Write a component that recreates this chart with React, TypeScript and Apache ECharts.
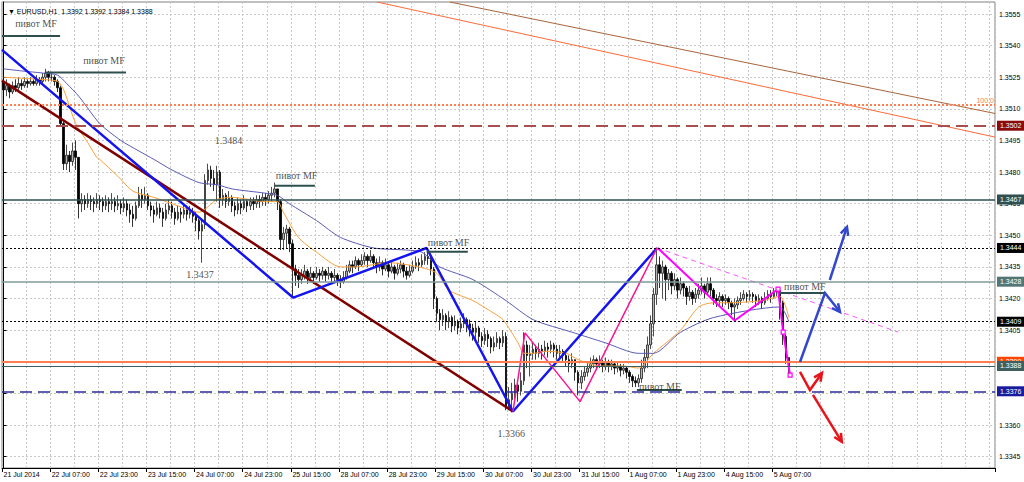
import React, { useEffect, useRef } from "react";
import * as echarts from "echarts";

const FONT = "'Liberation Sans Narrow', 'Arial Narrow', 'Liberation Sans', Arial, sans-serif";
const SERIF = "'Liberation Serif', 'Times New Roman', serif";
const AX_FS = 7;

// ---------- axis ----------
const TICK_LABELS = [
  "21 Jul 2014", "22 Jul 07:00", "22 Jul 23:00", "23 Jul 15:00", "24 Jul 07:00", "24 Jul 23:00",
  "25 Jul 15:00", "28 Jul 07:00", "28 Jul 23:00", "29 Jul 15:00", "30 Jul 07:00", "30 Jul 23:00",
  "31 Jul 15:00", "1 Aug 07:00", "1 Aug 23:00", "4 Aug 15:00", "5 Aug 07:00",
];
const BARS_PER_LABEL = 16;
const BARS_PER_GRID = 8;
const SLOTS = 330;
const Y_MIN = 1.33396;
const Y_MAX = 1.35607;
const Y_TICKS = [1.3345, 1.336, 1.3375, 1.339, 1.3405, 1.342, 1.3435, 1.345, 1.3465, 1.348, 1.3495, 1.351, 1.3525, 1.354, 1.3555];

// ---------- candles (H1) ----------
const FIRST_OPEN = 1.3523;
const CLOSE = [
  1.3519,1.3521,1.3518,1.3521,1.3520,1.3522,1.3521,1.3523,1.3522,1.3523,
  1.3522,1.3524,1.3523,1.3525,1.3527,1.3525,1.3525,1.3523,1.3520,1.3503,
  1.3484,1.3488,1.3485,1.3490,1.3487,1.3465,1.3467,1.3465,1.3467,1.3466,
  1.3465,1.3467,1.3466,1.3464,1.3466,1.3465,1.3466,1.3464,1.3465,1.3463,
  1.3465,1.3462,1.3460,1.3458,1.3464,1.3469,1.3467,1.3469,1.3464,1.3462,
  1.3460,1.3463,1.3461,1.3458,1.3462,1.3464,1.3461,1.3458,1.3461,1.3460,
  1.3462,1.3460,1.3461,1.3459,1.3457,1.3452,1.3455,1.3476,1.3481,1.3477,
  1.3474,1.3480,1.3467,1.3469,1.3466,1.3468,1.3464,1.3462,1.3465,1.3463,
  1.3466,1.3464,1.3466,1.3465,1.3467,1.3466,1.3468,1.3467,1.3469,1.3470,
  1.3472,1.3466,1.3448,1.3451,1.3453,1.3446,1.3434,1.3431,1.3429,1.3431,
  1.3433,1.3430,1.3432,1.3430,1.3432,1.3431,1.3433,1.3431,1.3432,1.3430,
  1.3431,1.3429,1.3428,1.3430,1.3433,1.3436,1.3435,1.3438,1.3436,1.3438,
  1.3440,1.3438,1.3440,1.3437,1.3435,1.3437,1.3434,1.3436,1.3433,1.3435,
  1.3432,1.3434,1.3436,1.3433,1.3431,1.3433,1.3435,1.3437,1.3436,1.3438,
  1.3440,1.3439,1.3434,1.3420,1.3413,1.3410,1.3412,1.3409,1.3411,1.3407,
  1.3409,1.3406,1.3408,1.3410,1.3408,1.3406,1.3404,1.3406,1.3402,1.3400,
  1.3403,1.3401,1.3397,1.3399,1.3401,1.3399,1.3402,1.3368,1.3372,1.3375,
  1.3379,1.3376,1.3381,1.3398,1.3393,1.3394,1.3396,1.3394,1.3396,1.3395,
  1.3397,1.3396,1.3398,1.3396,1.3394,1.3395,1.3393,1.3391,1.3389,1.3391,
  1.3385,1.3380,1.3383,1.3385,1.3387,1.3389,1.3391,1.3389,1.3390,1.3388,
  1.3390,1.3388,1.3389,1.3387,1.3388,1.3386,1.3387,1.3385,1.3383,1.3381,
  1.3380,1.3382,1.3387,1.3392,1.3398,1.3408,1.3422,1.3436,1.3432,1.3435,
  1.3429,1.3432,1.3426,1.3429,1.3424,1.3427,1.3425,1.3421,1.3423,1.3420,
  1.3422,1.3424,1.3426,1.3423,1.3427,1.3424,1.3420,1.3419,1.3421,1.3419,
  1.3420,1.3418,1.3416,1.3417,1.3419,1.3420,1.3422,1.3421,1.3422,1.3421,
  1.3419,1.3420,1.3418,1.3420,1.3422,1.3421,1.3423,1.3424,1.3418,1.3402,
  1.3392,1.3388,
];
const HIGH = [
  1.3526,1.3524,1.3522,1.3523,1.3524,1.3525,1.3524,1.3525,1.3524,1.3525,
  1.3524,1.3526,1.3525,1.3527,1.3529,1.3528,1.3527,1.3526,1.3524,1.3521,
  1.3504,1.3493,1.3490,1.3494,1.3495,1.3487,1.3470,1.3469,1.3470,1.3469,
  1.3468,1.3470,1.3469,1.3468,1.3469,1.3468,1.3470,1.3468,1.3469,1.3467,
  1.3468,1.3467,1.3465,1.3464,1.3466,1.3473,1.3472,1.3473,1.3470,1.3466,
  1.3464,1.3466,1.3465,1.3463,1.3465,1.3467,1.3466,1.3463,1.3464,1.3463,
  1.3465,1.3464,1.3464,1.3463,1.3461,1.3458,1.3457,1.3479,1.3484,1.3483,
  1.3481,1.3483,1.3481,1.3472,1.3470,1.3471,1.3469,1.3466,1.3468,1.3467,
  1.3469,1.3467,1.3468,1.3468,1.3469,1.3469,1.3470,1.3470,1.3471,1.3473,
  1.3475,1.3472,1.3467,1.3454,1.3455,1.3454,1.3448,1.3436,1.3434,1.3434,
  1.3436,1.3434,1.3435,1.3433,1.3435,1.3434,1.3435,1.3434,1.3435,1.3433,
  1.3434,1.3432,1.3431,1.3433,1.3436,1.3438,1.3438,1.3440,1.3439,1.3441,
  1.3442,1.3441,1.3443,1.3441,1.3439,1.3440,1.3438,1.3439,1.3437,1.3438,
  1.3436,1.3437,1.3438,1.3437,1.3435,1.3436,1.3438,1.3440,1.3439,1.3441,
  1.3442,1.3444,1.3440,1.3435,1.3421,1.3415,1.3415,1.3413,1.3414,1.3412,
  1.3412,1.3410,1.3411,1.3413,1.3411,1.3410,1.3408,1.3409,1.3407,1.3404,
  1.3406,1.3405,1.3402,1.3402,1.3404,1.3402,1.3405,1.3404,1.3378,1.3380,
  1.3382,1.3381,1.3385,1.3404,1.3400,1.3398,1.3399,1.3398,1.3399,1.3398,
  1.3400,1.3399,1.3400,1.3399,1.3398,1.3398,1.3396,1.3395,1.3393,1.3394,
  1.3391,1.3386,1.3386,1.3388,1.3390,1.3392,1.3393,1.3392,1.3393,1.3391,
  1.3392,1.3391,1.3391,1.3390,1.3390,1.3389,1.3389,1.3388,1.3386,1.3384,
  1.3383,1.3384,1.3391,1.3396,1.3402,1.3412,1.3425,1.3444,1.3440,1.3438,
  1.3436,1.3434,1.3433,1.3432,1.3430,1.3430,1.3428,1.3426,1.3426,1.3424,
  1.3425,1.3427,1.3430,1.3427,1.3430,1.3430,1.3425,1.3422,1.3423,1.3422,
  1.3422,1.3421,1.3419,1.3420,1.3421,1.3423,1.3424,1.3423,1.3424,1.3423,
  1.3422,1.3422,1.3421,1.3423,1.3424,1.3424,1.3425,1.3425,1.3424,1.3419,
  1.3403,1.3392,
];
const LOW = [
  1.3514,1.3516,1.3515,1.3517,1.3518,1.3519,1.3519,1.3520,1.3520,1.3521,
  1.3521,1.3521,1.3521,1.3522,1.3523,1.3523,1.3523,1.3521,1.3518,1.3502,
  1.3481,1.3481,1.3480,1.3483,1.3481,1.3458,1.3461,1.3462,1.3463,1.3462,
  1.3461,1.3463,1.3462,1.3461,1.3462,1.3461,1.3462,1.3461,1.3462,1.3460,
  1.3461,1.3459,1.3456,1.3454,1.3457,1.3463,1.3463,1.3465,1.3462,1.3459,
  1.3456,1.3459,1.3458,1.3454,1.3457,1.3460,1.3458,1.3455,1.3457,1.3456,
  1.3458,1.3457,1.3458,1.3456,1.3452,1.3448,1.3437,1.3453,1.3474,1.3473,
  1.3471,1.3466,1.3463,1.3464,1.3463,1.3464,1.3461,1.3459,1.3460,1.3460,
  1.3462,1.3461,1.3462,1.3462,1.3463,1.3463,1.3464,1.3464,1.3465,1.3466,
  1.3468,1.3462,1.3443,1.3443,1.3444,1.3442,1.3421,1.3426,1.3425,1.3427,
  1.3429,1.3427,1.3428,1.3427,1.3429,1.3428,1.3429,1.3428,1.3429,1.3427,
  1.3428,1.3426,1.3425,1.3427,1.3429,1.3432,1.3432,1.3434,1.3433,1.3435,
  1.3436,1.3435,1.3437,1.3434,1.3432,1.3433,1.3431,1.3433,1.3430,1.3432,
  1.3429,1.3431,1.3432,1.3430,1.3429,1.3430,1.3432,1.3434,1.3433,1.3435,
  1.3436,1.3436,1.3431,1.3415,1.3409,1.3405,1.3407,1.3405,1.3406,1.3404,
  1.3405,1.3403,1.3404,1.3406,1.3404,1.3402,1.3400,1.3401,1.3399,1.3397,
  1.3398,1.3397,1.3394,1.3395,1.3397,1.3396,1.3397,1.3367,1.3367,1.3366,
  1.3372,1.3371,1.3374,1.3379,1.3387,1.3383,1.3391,1.3391,1.3392,1.3391,
  1.3393,1.3392,1.3394,1.3392,1.3391,1.3391,1.3390,1.3388,1.3385,1.3387,
  1.3381,1.3374,1.3377,1.3381,1.3383,1.3385,1.3387,1.3386,1.3387,1.3385,
  1.3386,1.3385,1.3386,1.3384,1.3385,1.3383,1.3384,1.3382,1.3380,1.3378,
  1.3378,1.3378,1.3380,1.3385,1.3387,1.3396,1.3402,1.3417,1.3425,1.3420,
  1.3419,1.3424,1.3422,1.3424,1.3420,1.3422,1.3421,1.3417,1.3419,1.3417,
  1.3418,1.3420,1.3422,1.3420,1.3422,1.3421,1.3417,1.3416,1.3417,1.3416,
  1.3417,1.3415,1.3412,1.3410,1.3415,1.3417,1.3419,1.3418,1.3419,1.3418,
  1.3416,1.3417,1.3415,1.3417,1.3419,1.3418,1.3420,1.3421,1.3410,1.3398,
  1.3389,1.3384,
];

// ---------- moving averages [bar index, price] ----------
const MA_FAST = [
  [0,1.3525],[12,1.3524],[18,1.3523],[20,1.3519],[24,1.3503],[28,1.3494],[31,1.3487],[32,1.3486],
  [38,1.3478],[43,1.3471],[50,1.3468],[56,1.3465],[65,1.3461],[71,1.3467],[76,1.3468],[87,1.3466],
  [91,1.3466],[93,1.3461],[98,1.3449],[104,1.3442],[112,1.3435],[117,1.3435],[128,1.3437],[138,1.3435],
  [144,1.3432],[148,1.3424],[156,1.3419],[163,1.3413],[166,1.3410],[171,1.3399],[173,1.3394],[176,1.3394],
  [180,1.3395],[187,1.3394],[191,1.3391],[198,1.3388],[206,1.3388],[211,1.3387],[216,1.3394],[225,1.3405],
  [231,1.3416],[236,1.3418],[241,1.3418],[252,1.3419],[258,1.3421],[260,1.3416],[261,1.3411],
];
const MA_SLOW = [
  [0,1.3529],[6,1.3528],[13,1.3527],[18,1.3526],[21,1.3522],[25,1.3516],[32,1.3503],[39,1.3495],
  [45,1.3490],[50,1.3486],[56,1.3481],[65,1.3475],[71,1.3474],[76,1.3472],[87,1.3470],[91,1.3469],
  [95,1.3465],[104,1.3457],[112,1.3449],[123,1.3444],[134,1.3443],[139,1.3442],[145,1.3435],[156,1.3429],
  [167,1.3419],[176,1.3410],[189,1.3404],[200,1.3399],[211,1.3394],[216,1.3394],[225,1.3404],[236,1.3411],
  [258,1.3416],[261,1.3409],
];

// ---------- drawn objects [bar index, price] ----------
const ZIGZAG_BLUE = [[-0.5,1.3538],[96.3,1.34204],[140.6,1.3444],[169.3,1.33664],[217.2,1.3444]];
const TREND_MAROON = [[-0.5,1.35234],[169.3,1.33664]];
const ZIGZAG_PINK = [[169.3,1.33664],[173.3,1.34037],[191.6,1.33711],[217.2,1.3444]];
const ZIGZAG_MAGENTA = [[217.4,1.3444],[243.0,1.34096],[257.4,1.34245],[259.1,1.34041],[261.4,1.33837]];
const TREND_MAGENTA_DASH = [[217.2,1.3444],[297.3,1.34041]];
const TREND_ORANGE = [[124.1,Y_MAX],[329.5,1.34966]];
const TREND_BROWN = [[148.3,Y_MAX],[329.5,1.35078]];

const PIVOT_SEGMENTS = [
  [[-0.5,1.35446],[18.8,1.35446]],
  [[13.8,1.35272],[40.7,1.35272]],
  [[90.2,1.34735],[103.5,1.34735]],
  [[140.6,1.34422],[154.3,1.34422]],
  [[210.5,1.33766],[225.4,1.33766]],
  [[257.5,1.34226],[272.9,1.34226]],
];
const TEXT_NOTES = [
  { value: [10.8, 1.35503], name: "пивот MF" },
  { value: [33.4, 1.35328], name: "пивот MF" },
  { value: [97.4, 1.34783], name: "пивот MF" },
  { value: [147.9, 1.34465], name: "пивот MF" },
  { value: [218.1, 1.33785], name: "пивот MF" },
  { value: [266.3, 1.34256], name: "пивот MF" },
  { value: [74.8, 1.34952], name: "1.3484" },
  { value: [65.3, 1.34312], name: "1.3437" },
  { value: [168.7, 1.33562], name: "1.3366" },
];

const ARROW_POINTS = [
  [[264.7,1.33899],[273.0,1.34226],[278.0,1.34136]],
  [[274.6,1.34288],[280.3,1.3454]],
  [[264.7,1.33852],[268.0,1.33766],[272.0,1.33847]],
  [[269.0,1.33743],[278.6,1.3352]],
];
const ARROW_COLORS = ["#3347cc", "#3347cc", "#e8141c", "#e8141c"];

// horizontal price levels
const LEVEL_PRICES = [1.3512, 1.3502, 1.3467, 1.3444, 1.3428, 1.3409, 1.339, 1.3388, 1.3376];
const LEVEL_STYLES = [
  { color: "#ff7f50", width: 2, type: [2, 2], box: null, fib: "100.0" },
  { color: "#a8504f", width: 2, type: [12, 6], box: "#8b0a0a" },
  { color: "#2f4f4f", width: 1.5, type: "solid", box: "#2f4f4f" },
  { color: "#000000", width: 1, type: [2, 2], box: "#000000" },
  { color: "#7f9a9a", width: 1.5, type: "solid", box: "#557575" },
  { color: "#000000", width: 1, type: [2, 2], box: "#000000" },
  { color: "#ff7f50", width: 2, type: "solid", box: "#ff4500" },
  { color: "#3f5f5f", width: 1, type: "solid", box: "#3f5f5f" },
  { color: "#2b2b9b", width: 1.5, type: [12, 6], box: "#1a1a9c" },
];

function buildOption() {
  const cats = Array.from({ length: SLOTS }, (_, i) => String(i));
  const candles = CLOSE.map((c, k) => [k === 0 ? FIRST_OPEN : CLOSE[k - 1], c, LOW[k], HIGH[k]]);
  const lastLabelIdx = (TICK_LABELS.length - 1) * BARS_PER_LABEL;
  const isLabel = (i: number) => i % BARS_PER_LABEL === 0 && i <= lastLabelIdx;

  const levelLines = LEVEL_PRICES.map((p, k) => {
    const s: any = LEVEL_STYLES[k];
    return {
      yAxis: p,
      lineStyle: { color: s.color, width: s.width, type: s.type },
      label: s.fib
        ? { show: true, position: "insideEndTop", formatter: s.fib, color: "#ff7f50", fontSize: AX_FS, fontFamily: FONT, distance: 1 }
        : {
            show: true, position: "end", distance: 2, formatter: p.toFixed(4), color: "#ffffff",
            backgroundColor: s.box, padding: [2, 3, 1, 3], fontSize: AX_FS, fontFamily: FONT,
          },
    };
  });

  const line = (data: any[], color: string, width: number, type: any = "solid", extra: any = {}) => ({
    type: "line", xAxisIndex: 1, yAxisIndex: 0, data, symbol: "none", showSymbol: false, silent: true,
    lineStyle: { color, width, type }, z: 3, ...extra,
  });

  const series: any[] = [
    {
      type: "candlestick", xAxisIndex: 0, yAxisIndex: 0, data: candles, barWidth: 2, silent: true,
      itemStyle: { color: "#b4b4b4", color0: "#000000", borderColor: "#202020", borderColor0: "#000000", borderWidth: 0.8 },
      z: 2,
    },
    line(MA_FAST, "#f9a03c", 1, "solid", { smooth: 0.25 }),
    line(MA_SLOW, "#5a5ab4", 1, "solid", {
      smooth: 0.25,
      markLine: { symbol: ["none", "none"], silent: true, animation: false, precision: 5, data: levelLines },
    }),
    line(TREND_ORANGE, "#ff6a3a", 1),
    line(TREND_BROWN, "#a8653c", 1),
    line(TREND_MAROON, "#800000", 2.5),
    line(ZIGZAG_BLUE, "#1414f0", 2.5),
    line(ZIGZAG_PINK, "#ff1493", 1.5),
    line(TREND_MAGENTA_DASH, "#ff55ff", 1, [5, 4]),
    line(
      ZIGZAG_MAGENTA.map((p, k) => (k >= 2 ? { value: p, symbol: "rect", symbolSize: 4 } : { value: p })),
      "#ff00ff", 2, "solid",
      { showSymbol: true, z: 4, itemStyle: { color: "#ffffff", borderColor: "#ff00ff", borderWidth: 1.2 } }
    ),
    ...PIVOT_SEGMENTS.map((seg) => line(seg, "#2f4f4f", 2)),
    {
      type: "scatter", xAxisIndex: 1, yAxisIndex: 0, data: TEXT_NOTES, symbolSize: 0, silent: true, z: 6,
      label: { show: true, position: "inside", formatter: "{b}", color: "#1a1a1a", fontSize: 10, fontFamily: SERIF },
    },
    {
      type: "custom", xAxisIndex: 1, yAxisIndex: 0, silent: true, z: 6,
      data: ARROW_POINTS.map((pts) => pts[0]),
      renderItem: (params: any, api: any) => {
        const pts = ARROW_POINTS[params.dataIndex].map((p) => api.coord(p));
        const color = ARROW_COLORS[params.dataIndex];
        const n = pts.length;
        const [x1, y1] = pts[n - 2];
        const [x2, y2] = pts[n - 1];
        const ang = Math.atan2(y2 - y1, x2 - x1);
        const L = 9, spread = 0.45;
        const h1 = [x2 - L * Math.cos(ang - spread), y2 - L * Math.sin(ang - spread)];
        const h2 = [x2 - L * Math.cos(ang + spread), y2 - L * Math.sin(ang + spread)];
        return {
          type: "group",
          children: [
            { type: "polyline", shape: { points: pts }, style: { stroke: color, lineWidth: 2.5, fill: null } },
            { type: "polyline", shape: { points: [h1, [x2, y2], h2] }, style: { stroke: color, lineWidth: 2.5, fill: null } },
          ],
        };
      },
    },
  ];

  return {
    animation: false,
    backgroundColor: "#ffffff",
    title: {
      text: "▼ EURUSD,H1  1.3392 1.3392 1.3384 1.3388",
      left: 3, top: 3,
      textStyle: { fontSize: AX_FS, fontWeight: "normal", color: "#000", fontFamily: FONT },
    },
    grid: { left: 2, right: 29, top: 2, bottom: 14, show: true, borderColor: "#808080", borderWidth: 1 },
    xAxis: [
      {
        type: "category", data: cats, boundaryGap: true,
        axisLine: { show: true, lineStyle: { color: "#000" } },
        axisTick: { show: true, interval: (i: number) => isLabel(i), length: 4, lineStyle: { color: "#000" } },
        axisLabel: {
          interval: (i: number) => isLabel(i),
          formatter: (_v: string, i: number) => (isLabel(i) ? TICK_LABELS[i / BARS_PER_LABEL] : ""),
          align: "left", margin: 3, fontSize: AX_FS, color: "#000", fontFamily: FONT,
        },
        splitLine: { show: true, interval: (i: number) => i % BARS_PER_GRID === 0, lineStyle: { color: "#c8c8c8", type: [2, 2], width: 1 } },
      },
      { type: "value", min: -0.5, max: SLOTS - 0.5, show: false },
    ],
    yAxis: {
      type: "value", position: "right", min: Y_MIN, max: Y_MAX, scale: true,
      axisLine: { show: true, lineStyle: { color: "#000" } },
      axisTick: { show: true, customValues: Y_TICKS, length: 3, lineStyle: { color: "#000" } },
      axisLabel: { customValues: Y_TICKS, formatter: (v: number) => v.toFixed(4), margin: 4, fontSize: AX_FS, color: "#000", fontFamily: FONT },
      splitLine: { show: true, lineStyle: { color: "#c8c8c8", type: [2, 2], width: 1 } },
    },
    series,
  };
}

export default function App() {
  const ref = useRef<HTMLDivElement>(null);
  useEffect(() => {
    const chart = echarts.init(ref.current as HTMLDivElement, null, { renderer: "svg" });
    chart.setOption(buildOption() as any);
    return () => chart.dispose();
  }, []);
  return <div ref={ref} style={{ position: "absolute", left: 0, top: 0, width: 1024, height: 482, background: "#fff" }} />;
}
